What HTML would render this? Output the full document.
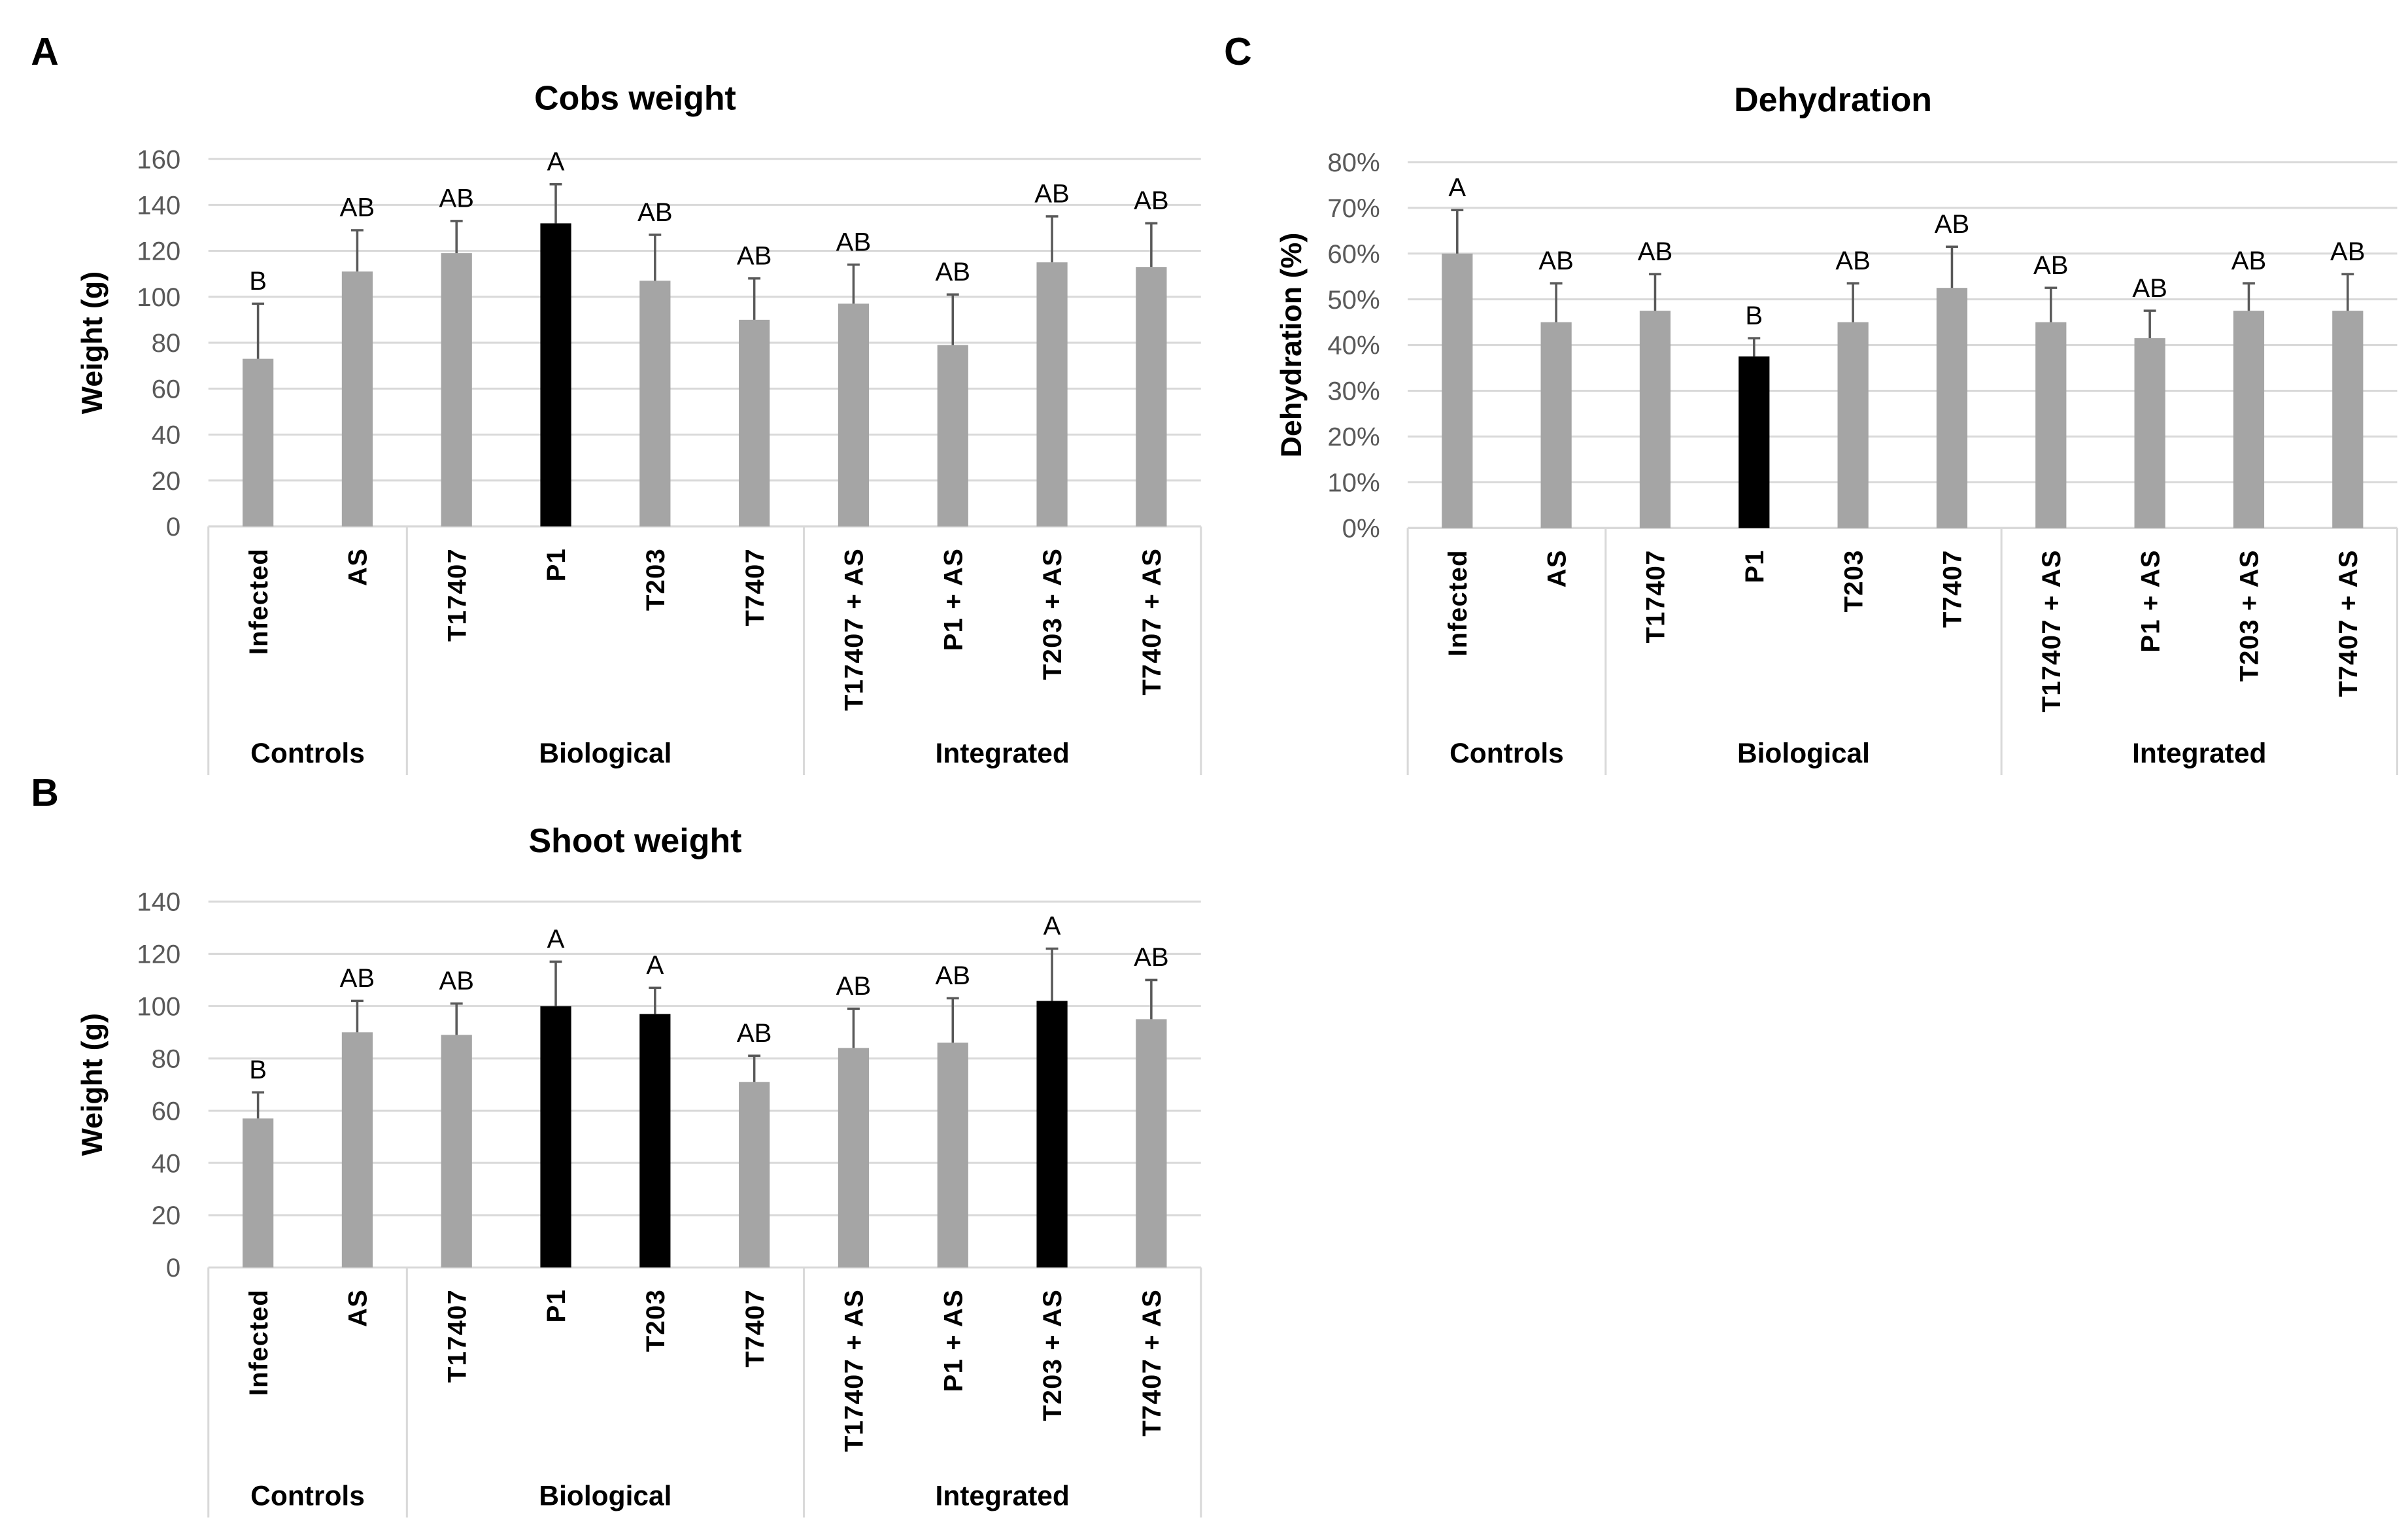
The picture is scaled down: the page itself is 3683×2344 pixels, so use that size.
<!DOCTYPE html>
<html><head><meta charset="utf-8"><style>
html,body{margin:0;padding:0;background:#fff}
svg{display:block}
text{font-family:"Liberation Sans",sans-serif}
</style></head><body>
<svg id="fig" width="3683" height="2344" viewBox="0 0 1560 993" preserveAspectRatio="none" xmlns="http://www.w3.org/2000/svg">
<text x="20" y="42" font-size="25" font-weight="bold">A</text>
<text x="20" y="522" font-size="25" font-weight="bold">B</text>
<text x="793" y="42" font-size="25" font-weight="bold">C</text>
</svg>
<script>
const categories = ["Infected","AS","T17407","P1","T203","T7407","T17407 + AS","P1 + AS","T203 + AS","T7407 + AS"];
const groups = ["Controls","Biological","Integrated"];
const groupSizes = [2,4,4];
const cobsValues = [73,111,119,132,107,90,97,79,115,113];
const cobsErrors = [24,18,14,17,20,18,17,22,20,19];
const cobsLetters = ["B","AB","AB","A","AB","AB","AB","AB","AB","AB"];
const cobsBlack = [false,false,false,true,false,false,false,false,false,false];
const cobsTicks = [0,20,40,60,80,100,120,140,160];
const shootValues = [57,90,89,100,97,71,84,86,102,95];
const shootErrors = [10,12,12,17,10,10,15,17,20,15];
const shootLetters = ["B","AB","AB","A","A","AB","AB","AB","A","AB"];
const shootBlack = [false,false,false,true,true,false,false,false,true,false];
const shootTicks = [0,20,40,60,80,100,120,140];
const dehydValues = [60,45,47.5,37.5,45,52.5,45,41.5,47.5,47.5];
const dehydErrors = [9.5,8.5,8,4,8.5,9,7.5,6,6,8];
const dehydLetters = ["A","AB","AB","B","AB","AB","AB","AB","AB","AB"];
const dehydBlack = [false,false,false,true,false,false,false,false,false,false];
const dehydTicks = [0,10,20,30,40,50,60,70,80];

const NS="http://www.w3.org/2000/svg";
const svg=document.getElementById('fig');
function mk(tag,attrs,parent){const e=document.createElementNS(NS,tag);for(const k in attrs)e.setAttribute(k,attrs[k]);(parent||svg).appendChild(e);return e;}

function chart(cfg){
  const g=mk('g',{});
  
  
  const x0=cfg.x0,x1=cfg.x1,y0=cfg.y0,yTop=cfg.yTop,bottom=cfg.bottom;
  const maxV=cfg.ticks[cfg.ticks.length-1];
  const y=v=>y0-(v/maxV)*(y0-yTop);
  const bw=(x1-x0)/categories.length;
  const xc=i=>x0+bw*(i+0.5);
  const t=mk('text',{x:(x0+x1)/2-45,y:cfg.titleY,'font-size':22,'font-weight':'bold','text-anchor':'middle',fill:'#000'},g);
  t.textContent=cfg.title;
  
  
  cfg.ticks.forEach(tv=>{
    const gl=mk('line',{x1:x0,x2:x1,y1:y(tv),y2:y(tv),stroke:'#d9d9d9','stroke-width':1.3},g);
    
    
    const tl=mk('text',{x:x0-18,y:y(tv)+6,'font-size':17,'text-anchor':'end',fill:'#595959'},g);
    tl.textContent=tv+cfg.suffix;
    
    
  });
  const yt=mk('text',{x:0,y:0,'font-size':19,'font-weight':'bold','text-anchor':'middle',transform:`translate(${cfg.yTitleX},${(y0+yTop)/2}) rotate(-90)`},g);
  yt.textContent=cfg.yTitle;
  
  
  const ax=mk('line',{x1:x0,x2:x1,y1:y0,y2:y0,stroke:'#d9d9d9','stroke-width':1.3},g);
  
  
  let idx=0;
  const seps=[0];
  groupSizes.forEach(s=>{idx+=s;seps.push(idx);});
  seps.forEach(s=>{
    const l=mk('line',{x1:x0+bw*s,x2:x0+bw*s,y1:y0,y2:bottom,stroke:'#d9d9d9','stroke-width':1.3},g);
    
    
  });
  groups.forEach((gn,k)=>{
    const cx=x0+bw*(seps[k]+seps[k+1])/2;
    const gt=mk('text',{x:cx,y:bottom-8,'font-size':18,'font-weight':'bold','text-anchor':'middle'},g);
    gt.textContent=gn;
    
    
  });
  categories.forEach((c,i)=>{
    const v=cfg.values[i],e=cfg.errors[i];
    const r=mk('rect',{x:xc(i)-10,y:y(v),width:20,height:y0-y(v),fill:cfg.black[i]?'#000':'#a5a5a5'},g);
    
    
    const el=mk('line',{x1:xc(i),x2:xc(i),y1:y(v),y2:y(v+e),stroke:'#595959','stroke-width':1.5},g);
    
    
    const cap=mk('line',{x1:xc(i)-4,x2:xc(i)+4,y1:y(v+e),y2:y(v+e),stroke:'#595959','stroke-width':1.5},g);
    
    
    const lt=mk('text',{x:xc(i),y:y(v+e)-9,'font-size':17,'text-anchor':'middle',fill:'#000'},g);
    lt.textContent=cfg.letters[i];
    
    
    const cl=mk('text',{x:0,y:0,'font-size':17,'font-weight':'bold','text-anchor':'end','letter-spacing':'0.5',transform:`translate(${xc(i)+6},${y0+14}) rotate(-90)`},g);
    cl.textContent=c;
    
    
  });
}
chart({name:'cobs-weight-chart',title:'Cobs weight',titleY:71,x0:135,x1:778,y0:341,yTop:103,bottom:502,ticks:cobsTicks,suffix:'',values:cobsValues,errors:cobsErrors,letters:cobsLetters,black:cobsBlack,yTitle:'Weight (g)',yTitleX:66});
chart({name:'shoot-weight-chart',title:'Shoot weight',titleY:552,x0:135,x1:778,y0:821,yTop:584,bottom:983,ticks:shootTicks,suffix:'',values:shootValues,errors:shootErrors,letters:shootLetters,black:shootBlack,yTitle:'Weight (g)',yTitleX:66});
chart({name:'dehydration-chart',title:'Dehydration',titleY:72,x0:912,x1:1553,y0:342,yTop:105,bottom:502,ticks:dehydTicks,suffix:'%',values:dehydValues,errors:dehydErrors,letters:dehydLetters,black:dehydBlack,yTitle:'Dehydration (%)',yTitleX:843});
</script>
</body></html>
